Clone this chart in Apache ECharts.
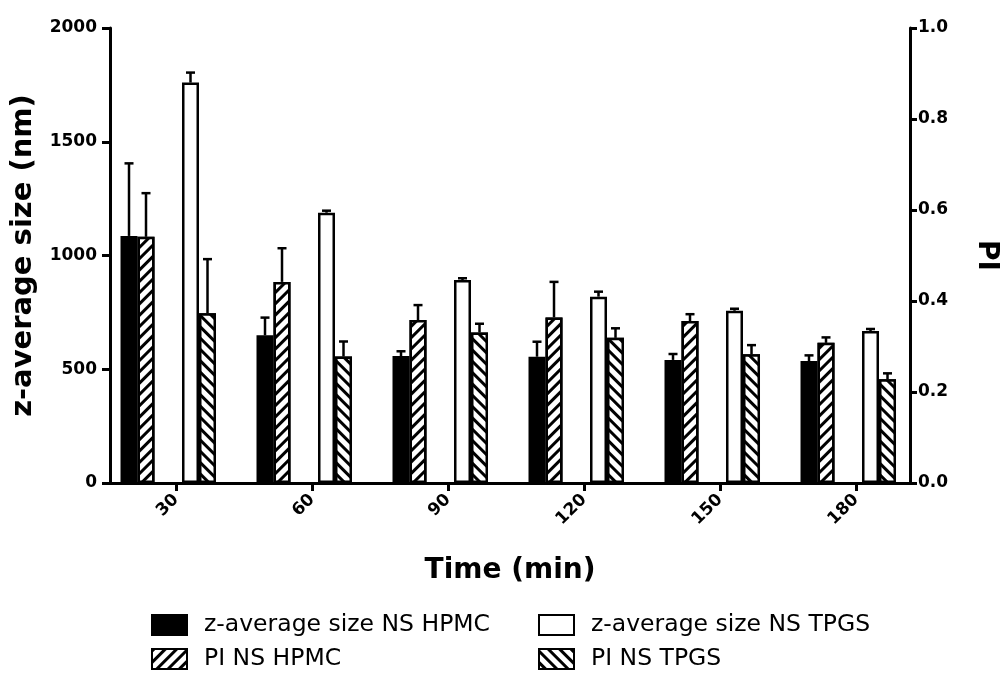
<!DOCTYPE html>
<html>
<head>
<meta charset="utf-8">
<script src="https://cdn.jsdelivr.net/npm/echarts@6/dist/echarts.min.js"></script>
<style>
  html, body { margin: 0; padding: 0; background: #fff; }
  #chart { width: 1002px; height: 675px; }
</style>
</head>
<body>
<div id="chart"></div>
<script>
  // time points (min)
  const times = [30, 60, 90, 120, 150, 180]

  // z-average size (nm), mean and SD
  const zHpmc = [1086, 649, 558, 555, 541, 536]
  const zHpmcErr = [319, 78, 21, 66, 26, 25]
  const zTpgs = [1760, 1188, 892, 819, 757, 668]
  const zTpgsErr = [44, 9, 8, 22, 9, 9]

  // polydispersity index, mean and SD
  const piHpmc = [0.541, 0.442, 0.358, 0.364, 0.356, 0.308]
  const piHpmcErr = [0.096, 0.074, 0.033, 0.078, 0.015, 0.012]
  const piTpgs = [0.373, 0.278, 0.331, 0.319, 0.283, 0.228]
  const piTpgsErr = [0.119, 0.033, 0.019, 0.021, 0.020, 0.013]

  const leftTicks = [0, 500, 1000, 1500, 2000]
  const rightTicks = [0, 0.2, 0.4, 0.6, 0.8, 1.0]

  const FONT = 'DejaVu Sans'
  const X_MIN = 15.44
  const X_MAX = 191.91
  const PLOT_W = 800
  const BAR_W = 17
  const PAIR_SHIFT = [-38.5, 23] // px, pair centre relative to tick
  const unit = (X_MAX - X_MIN) / PLOT_W

  const chart = echarts.init(document.getElementById('chart'))

  function pairs(values, errs) {
    return times.map((t, i) => errs ? [t, values[i], errs[i]] : [t, values[i]])
  }

  function errorBar(offset) {
    return function (params, api) {
      const x = api.value(0)
      const top = api.coord([x, api.value(1)])
      const end = api.coord([x, api.value(1) + api.value(2)])
      const cx = top[0] + offset
      const style = { stroke: '#000', lineWidth: 2.5 }
      return {
        type: 'group',
        children: [
          { type: 'line', shape: { x1: cx, y1: top[1], x2: cx, y2: end[1] }, style },
          { type: 'line', shape: { x1: cx - 4.5, y1: end[1], x2: cx + 4.5, y2: end[1] }, style }
        ]
      }
    }
  }

  // "////" stripes
  const hatchFwd = {
    symbol: 'rect', color: '#000', backgroundColor: '#fff',
    dashArrayX: [1, 0], dashArrayY: [2.2, 4.2], rotation: -Math.PI / 4
  }
  // "\\\\" stripes
  const hatchBack = {
    symbol: 'rect', color: '#000', backgroundColor: '#fff',
    dashArrayX: [1, 0], dashArrayY: [2.8, 5], rotation: Math.PI / 4
  }

  const axisLine = { show: true, lineStyle: { color: '#000', width: 3 } }
  const axisTick = { show: true, length: 8, lineStyle: { color: '#000', width: 3 } }
  const tickLabel = { color: '#000', fontFamily: FONT, fontWeight: 'bold', fontSize: 17 }
  const titleText = { color: '#000', fontFamily: FONT, fontWeight: 'bold', fontSize: 28 }
  const legendText = {
    color: '#000', fontFamily: FONT, fontSize: 23.5, lineHeight: 24, padding: [0, 0, 0, 12]
  }

  const hiddenX = (shift) => ({
    type: 'value', show: false,
    min: X_MIN - shift * unit, max: X_MAX - shift * unit
  })

  const legendBase = {
    orient: 'vertical', top: 613, padding: 0, icon: 'rect',
    itemWidth: 35, itemHeight: 20, itemGap: 10, textStyle: legendText
  }

  chart.setOption({
    animation: false,
    grid: { left: 110, right: 92, top: 28, bottom: 192, containLabel: false, outerBoundsMode: 'none' },
    legend: [
      Object.assign({ data: ['z-average size NS HPMC', 'PI NS HPMC'], left: 151 }, legendBase),
      Object.assign({ data: ['z-average size NS TPGS', 'PI NS TPGS'], left: 538 }, legendBase)
    ],
    xAxis: [
      {
        type: 'value', min: X_MIN, max: X_MAX,
        name: 'Time (min)', nameLocation: 'middle', nameGap: 74, nameTextStyle: titleText,
        splitLine: { show: false },
        axisLine, axisTick: Object.assign({ customValues: times }, axisTick),
        axisLabel: Object.assign({ customValues: times, rotate: 45, margin: 14 }, tickLabel)
      },
      hiddenX(PAIR_SHIFT[0]),
      hiddenX(PAIR_SHIFT[1])
    ],
    yAxis: [
      {
        type: 'value', min: 0, max: 2000, interval: 500, position: 'left',
        name: 'z-average size (nm)', nameLocation: 'middle', nameGap: 72,
        nameTextStyle: Object.assign({}, titleText, { fontSize: 29 }),
        splitLine: { show: false }, axisLine, axisTick,
        axisLabel: Object.assign({ margin: 13, customValues: leftTicks, formatter: v => String(v) }, tickLabel)
      },
      {
        type: 'value', min: 0, max: 1, interval: 0.2, position: 'right',
        name: 'PI', nameLocation: 'middle', nameRotate: -90, nameGap: 62, nameTextStyle: titleText,
        splitLine: { show: false }, axisLine, axisTick: Object.assign({}, axisTick, { length: 7 }),
        axisLabel: Object.assign({ margin: 8, customValues: rightTicks, formatter: v => v.toFixed(1) }, tickLabel)
      }
    ],
    series: [
      {
        name: 'z-average size NS HPMC', type: 'bar', xAxisIndex: 1, yAxisIndex: 0,
        data: pairs(zHpmc), barWidth: BAR_W, barGap: '0%',
        itemStyle: { color: '#000', borderColor: '#000', borderWidth: 2.5 }
      },
      {
        name: 'PI NS HPMC', type: 'bar', xAxisIndex: 1, yAxisIndex: 1,
        data: pairs(piHpmc), barWidth: BAR_W, barGap: '0%',
        itemStyle: { color: '#fff', borderColor: '#000', borderWidth: 2.5, decal: hatchFwd }
      },
      {
        name: 'z-average size NS TPGS', type: 'bar', xAxisIndex: 2, yAxisIndex: 0,
        data: pairs(zTpgs), barWidth: BAR_W, barGap: '0%',
        itemStyle: { color: '#fff', borderColor: '#000', borderWidth: 2.5 }
      },
      {
        name: 'PI NS TPGS', type: 'bar', xAxisIndex: 2, yAxisIndex: 1,
        data: pairs(piTpgs), barWidth: BAR_W, barGap: '0%',
        itemStyle: { color: '#fff', borderColor: '#000', borderWidth: 2.5, decal: hatchBack }
      },
      {
        type: 'custom', xAxisIndex: 1, yAxisIndex: 0, z: 1,
        renderItem: errorBar(-BAR_W / 2), data: pairs(zHpmc, zHpmcErr)
      },
      {
        type: 'custom', xAxisIndex: 1, yAxisIndex: 1, z: 1,
        renderItem: errorBar(BAR_W / 2), data: pairs(piHpmc, piHpmcErr)
      },
      {
        type: 'custom', xAxisIndex: 2, yAxisIndex: 0, z: 1,
        renderItem: errorBar(-BAR_W / 2), data: pairs(zTpgs, zTpgsErr)
      },
      {
        type: 'custom', xAxisIndex: 2, yAxisIndex: 1, z: 1,
        renderItem: errorBar(BAR_W / 2), data: pairs(piTpgs, piTpgsErr)
      }
    ]
  })
</script>
</body>
</html>
